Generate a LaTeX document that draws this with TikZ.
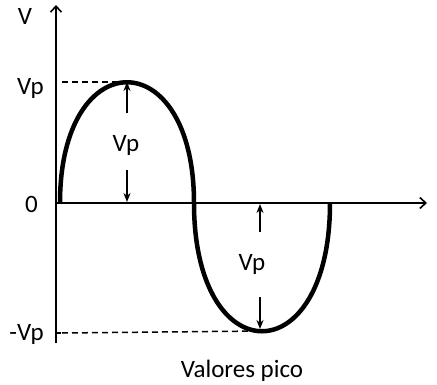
\documentclass[tikz,border=0pt]{standalone}
\usepackage{fontspec}
\setmainfont{Carlito}
\usetikzlibrary{arrows.meta}
\begin{document}
\begin{tikzpicture}[x=1pt,y=-1pt,
  axis/.style={line width=1.6pt,-{Straight Barb[length=6pt,width=11pt,line width=1.6pt]}},
  guide/.style={line width=1.5pt,dash pattern=on 6pt off 4pt},
  wave/.style={line width=4.5pt},
  marker/.style={line width=1.6pt,-{Stealth[length=9pt,width=7pt]}},
  lbl/.style={font=\fontsize{25}{30}\selectfont,inner sep=0pt}]
\useasboundingbox (0,0) rectangle (437,385);
% axes
\coordinate (O) at (56,203);
\coordinate (ytop) at (56,5);
\coordinate (ybot) at (56,343);
\coordinate (xend) at (427,203);
\draw[line width=1.6pt] (O) -- (ybot);
\draw[axis] (O) -- (ytop);
\draw[axis] (O) -- (xend);
% tick at -Vp
\coordinate (tickA) at (56,333);
\coordinate (tickB) at (61,333);
\draw[line width=1.6pt] (tickA) -- (tickB);
% wave
\coordinate (s0) at (60,203);
\coordinate (peak) at (127,82);
\coordinate (mid) at (194,203);
\coordinate (trough) at (262,331);
\coordinate (s1) at (330,203);
\draw[wave] (s0) .. controls (60,42) and (194,42) .. (mid)
  .. controls (194,374) and (330,374) .. (s1);
% dashed guides
\coordinate (gtop) at (62,82);
\coordinate (gbot) at (62,333);
\draw[guide] (gtop) -- (peak);
\draw[guide] (gbot) -- (trough);
% labels
\node[lbl,anchor=base] (lV) at (25,25) {V};
\node[lbl,anchor=base east] (lVp) at (44,95) {Vp};
\node[lbl,anchor=base east] (l0) at (38,213) {0};
\node[lbl,anchor=base east] (lmVp) at (44,340) {-Vp};
\node[lbl,anchor=base] (caption) at (242,377) {Valores pico};
% peak markers
\node[lbl,anchor=base] (m1) at (126,152) {Vp};
\coordinate (m1top) at (127,113);
\coordinate (m1bot) at (127,170);
\coordinate (m1ax) at (127,202);
\draw[marker] (m1top) -- (peak);
\draw[marker] (m1bot) -- (m1ax);
\node[lbl,anchor=base] (m2) at (252,270) {Vp};
\coordinate (m2top) at (260,232);
\coordinate (m2ax) at (260,204);
\coordinate (m2bot) at (260,297);
\coordinate (m2tr) at (260,329);
\draw[marker] (m2top) -- (m2ax);
\draw[marker] (m2bot) -- (m2tr);
\end{tikzpicture}
\end{document}
